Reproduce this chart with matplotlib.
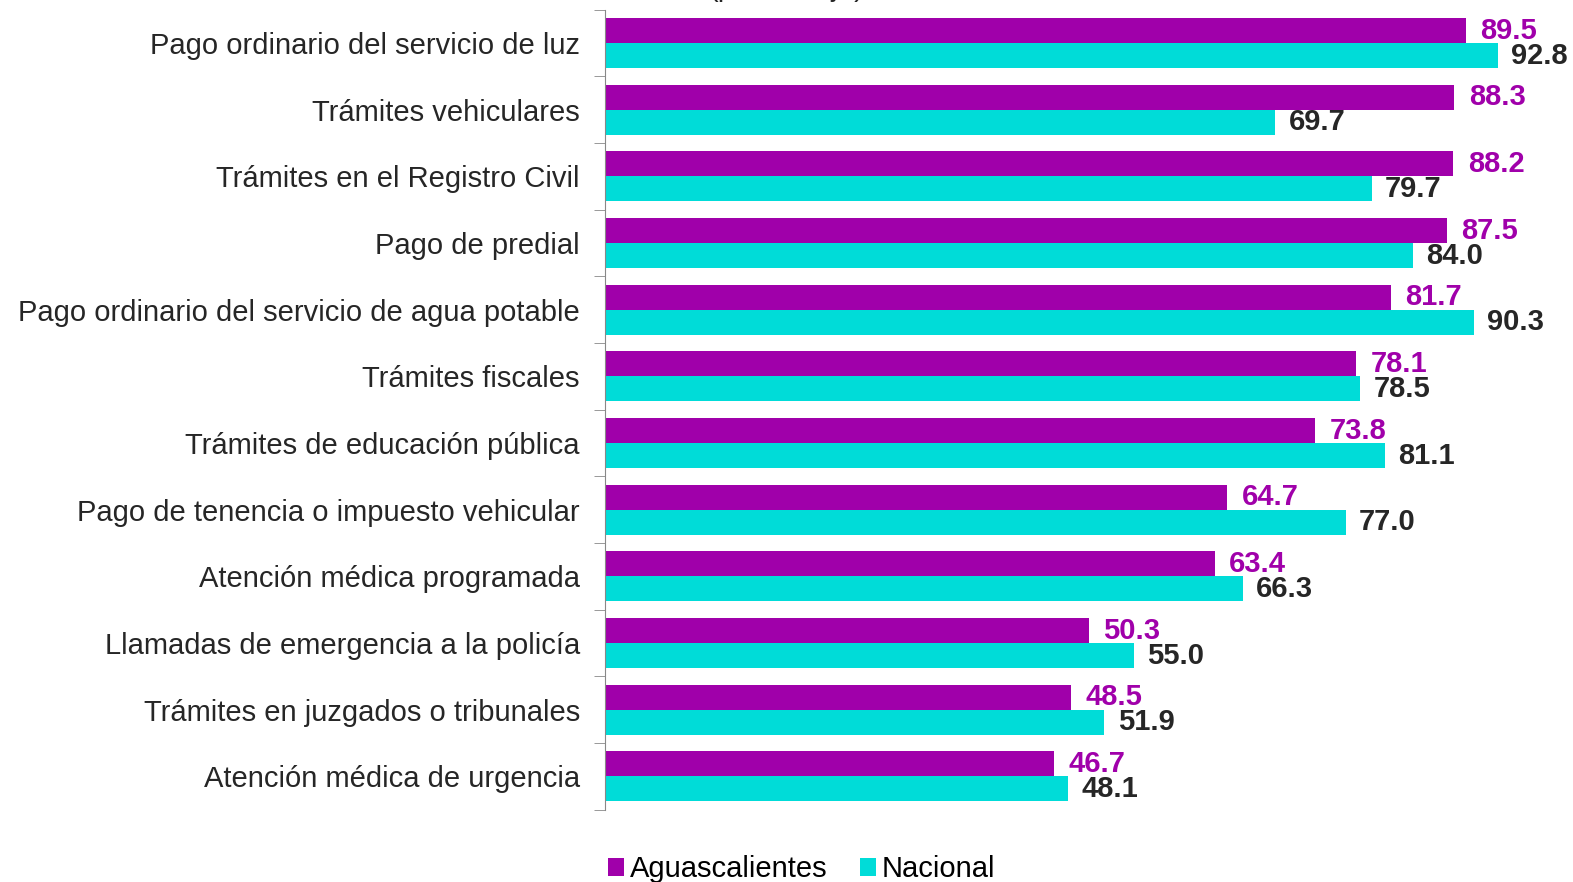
import matplotlib.pyplot as plt
import numpy as np

plt.rcParams['font.family'] = ['Liberation Sans', 'DejaVu Sans']

categorias = [
    'Pago ordinario del servicio de luz',
    'Trámites vehiculares',
    'Trámites en el Registro Civil',
    'Pago de predial',
    'Pago ordinario del servicio de agua potable',
    'Trámites fiscales',
    'Trámites de educación pública',
    'Pago de tenencia o impuesto vehicular',
    'Atención médica programada',
    'Llamadas de emergencia a la policía',
    'Trámites en juzgados o tribunales',
    'Atención médica de urgencia',
]
aguascalientes = [89.5, 88.3, 88.2, 87.5, 81.7, 78.1, 73.8, 64.7, 63.4, 50.3, 48.5, 46.7]
nacional = [92.8, 69.7, 79.7, 84.0, 90.3, 78.5, 81.1, 77.0, 66.3, 55.0, 51.9, 48.1]

morado = '#A000AA'
cian = '#00DCD8'

fig = plt.figure(figsize=(15.73, 8.82), dpi=100)
ax = fig.add_axes([0.3846, 0.082, 0.6115, 0.907])

y = np.arange(len(categorias))
h = 0.375
b1 = ax.barh(y - h / 2, aguascalientes, height=h, color=morado, label='Aguascalientes')
b2 = ax.barh(y + h / 2, nacional, height=h, color=cian, label='Nacional')

for bar, v in zip(b1, aguascalientes):
    ax.text(v + 1.5, bar.get_y() + bar.get_height() / 2, f'{v:.1f}', color=morado,
            fontsize=21, fontweight='bold', va='center', ha='left')
for bar, v in zip(b2, nacional):
    ax.text(v + 1.4, bar.get_y() + bar.get_height() / 2, f'{v:.1f}', color='#262626',
            fontsize=21, fontweight='bold', va='center', ha='left')

ax.set_xlim(0, 100)
ax.set_ylim(len(categorias) - 0.5, -0.5)
ax.set_yticks(y)
ax.set_yticklabels(categorias, fontsize=21, color='#262626')
ax.tick_params(axis='y', which='major', length=0, pad=18)
ax.set_yticks(np.arange(len(categorias) + 1) - 0.5, minor=True)
ax.tick_params(axis='y', which='minor', length=8, color='#888888', direction='out')
ax.set_xticks([])
for s in ['top', 'right', 'bottom']:
    ax.spines[s].set_visible(False)
ax.spines['left'].set_color('#888888')

# subtitle sits just above the top edge, as in the reference where it is cropped
fig.text(0.5, 1.004, '(porcentaje)', fontsize=21, ha='center', va='baseline', color='#262626')

fig.legend(loc='lower left', bbox_to_anchor=(0.37, -0.031), ncol=2, frameon=False,
           fontsize=21, handlelength=0.55, handleheight=0.55, handletextpad=0.2,
           columnspacing=1.1)

fig.savefig('out.png', dpi=100)
